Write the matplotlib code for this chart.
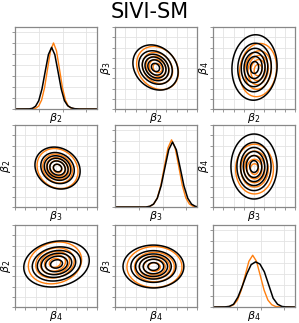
import matplotlib
matplotlib.use('Agg')
import matplotlib.pyplot as plt
import numpy as np

names = [r'$\beta_2$', r'$\beta_3$', r'$\beta_4$']

# diagonal: marginal densities (x in panel units, y height)
d0_x_orange = [0, 0.6, 0.87, 0.995, 1.12, 1.245, 1.37, 1.495, 1.62, 1.745, 1.87, 1.995, 2.12, 2.245, 2.37, 2.6, 3.45]
d0_y_orange = [0, 0.01, 0.07, 0.26, 0.81, 1.95, 3.64, 5.29, 6.0, 5.29, 3.64, 1.95, 0.81, 0.26, 0.07, 0.01, 0]
d0_x_black = [0, 0.6, 0.73, 0.865, 1.0, 1.135, 1.27, 1.405, 1.54, 1.675, 1.81, 1.945, 2.08, 2.215, 2.35, 2.5, 2.7, 3.45]
d0_y_black = [0, 0.01, 0.06, 0.25, 0.76, 1.82, 3.40, 4.94, 5.6, 4.94, 3.40, 1.82, 0.76, 0.3, 0.12, 0.03, 0.0, 0]

d1_x_orange = [0, 1.3, 1.48, 1.63, 1.78, 1.93, 2.08, 2.23, 2.38, 2.53, 2.68, 2.83, 2.98, 3.13, 3.28, 3.45]
d1_y_orange = [0, 0.0, 0.07, 0.27, 0.82, 1.98, 3.70, 5.38, 6.1, 5.38, 3.70, 1.98, 0.82, 0.27, 0.07, 0.02]
d1_x_black = [0, 1.3, 1.46, 1.62, 1.78, 1.94, 2.10, 2.26, 2.42, 2.58, 2.74, 2.90, 3.06, 3.22, 3.38, 3.45]
d1_y_black = [0, 0.0, 0.06, 0.26, 0.80, 1.92, 3.58, 5.20, 5.9, 5.20, 3.58, 1.92, 0.80, 0.26, 0.06, 0.03]

d2_x_orange = [0, 0.5, 0.71, 0.87, 1.03, 1.19, 1.35, 1.51, 1.67, 1.83, 1.99, 2.15, 2.31, 2.47, 2.63, 2.8, 3.45]
d2_y_orange = [0, 0.01, 0.05, 0.21, 0.63, 1.53, 2.85, 4.15, 4.7, 4.15, 2.85, 1.53, 0.63, 0.21, 0.05, 0.01, 0]
d2_x_black = [0, 0.5, 0.68, 0.865, 1.05, 1.235, 1.42, 1.605, 1.79, 1.975, 2.16, 2.345, 2.53, 2.715, 2.9, 3.05, 3.45]
d2_y_black = [0, 0.01, 0.05, 0.25, 0.9, 1.9, 3.0, 3.85, 4.1, 3.9, 3.2, 2.0, 0.8, 0.25, 0.05, 0.01, 0]

diag_orange = [(d0_x_orange, d0_y_orange), (d1_x_orange, d1_y_orange), (d2_x_orange, d2_y_orange)]
diag_black = [(d0_x_black, d0_y_black), (d1_x_black, d1_y_black), (d2_x_black, d2_y_black)]

# off-diagonal: contour shapes (centre, spread, tilt)
pairs = [(0, 1), (0, 2), (1, 0), (1, 2), (2, 0), (2, 1)]
black_mean = [(3.95, 4.05), (4.05, 4.05), (4.15, 3.8), (4.0, 3.95), (4.05, 4.2), (3.75, 3.95)]
black_sd = [(0.98, 0.98), (0.98, 1.42), (0.98, 0.91), (1.0, 1.41), (1.42, 1.0), (1.32, 0.93)]
black_rho = [-0.2, 0.05, -0.15, 0.0, 0.15, 0.0]
orange_mean = [(4.15, 4.0), (4.4, 3.8), (4.15, 3.75), (4.05, 3.7), (3.9, 4.3), (3.85, 3.9)]
orange_sd = [(0.95, 0.98), (0.84, 1.21), (0.93, 0.91), (0.86, 1.13), (1.21, 0.95), (1.25, 0.93)]
orange_rho = [-0.2, 0.1, -0.15, 0.0, 0.15, 0.0]
black_levels = [0.08, 0.25, 0.42, 0.58, 0.75, 0.92]
orange_levels = [0.1, 0.3, 0.5, 0.7, 0.9]

ORANGE = '#ff7f0e'


def density(X, Y, m, s, r):
    zx = (X - m[0]) / s[0]
    zy = (Y - m[1]) / s[1]
    return np.exp(-(zx**2 - 2*r*zx*zy + zy**2) / (2*(1 - r**2)))


def style(ax):
    for sp in ax.spines.values():
        sp.set_color('#888888')
        sp.set_linewidth(0.9)
    ax.tick_params(length=2, width=0.6, color='#888888', labelleft=False, labelbottom=False)
    ax.grid(True, color='#e3e3e3', linewidth=0.6)
    ax.set_axisbelow(True)


fig = plt.figure(figsize=(2.99, 3.23), dpi=100)
W, H = 299, 323
lefts = [15, 115, 213]
tops = [27, 125, 225]
size = 82

axes = {}
for i in range(3):
    for j in range(3):
        ax = fig.add_axes([lefts[j]/W, 1 - (tops[i] + size)/H, size/W, size/H])
        axes[(i, j)] = ax
        style(ax)

for k in range(3):
    ax = axes[(k, k)]
    ax.plot(*diag_orange[k], color=ORANGE, lw=1.0)
    ax.plot(*diag_black[k], color='black', lw=1.1)
    ax.set_xlim(0, 3.45)
    ax.set_ylim(0, 7.45)
    ax.set_xticks([1, 2, 3])
    ax.set_yticks(range(8))
    ax.set_xlabel(names[k], fontsize=8)
    ax.xaxis.set_label_coords(0.5, -0.03)

g = np.linspace(0, 8, 200)
X, Y = np.meshgrid(g, g)
for n, (i, j) in enumerate(pairs):
    ax = axes[(i, j)]
    Zo = density(X, Y, orange_mean[n], orange_sd[n], orange_rho[n])
    Zb = density(X, Y, black_mean[n], black_sd[n], black_rho[n])
    ax.contour(X, Y, Zo, levels=orange_levels, colors=ORANGE, linewidths=1.0)
    ax.contour(X, Y, Zb, levels=black_levels, colors='black', linewidths=1.1)
    ax.set_xlim(0, 8)
    ax.set_ylim(0, 8)
    ax.set_xticks(range(9))
    ax.set_yticks(range(9))
    ax.set_xlabel(names[i], fontsize=8)
    ax.set_ylabel(names[j], fontsize=8)
    ax.xaxis.set_label_coords(0.5, -0.03)
    ax.yaxis.set_label_coords(-0.02, 0.5)

fig.suptitle('SIVI-SM', fontsize=15, y=0.995)
fig.savefig('out.png', dpi=100)
